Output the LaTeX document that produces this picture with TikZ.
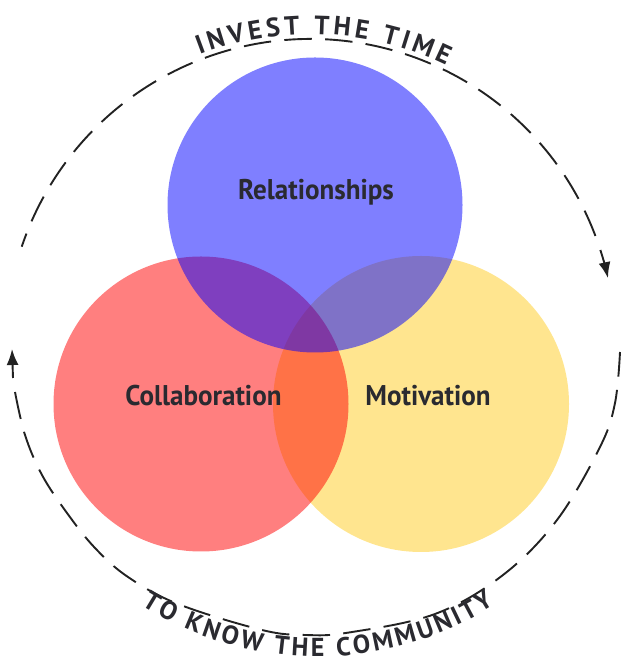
\documentclass[tikz,border=0pt]{standalone}
\usepackage{fontspec}
\setmainfont{PT Sans}
\newfontfamily\lblfont[FakeStretch=0.95]{PT Sans}
\newfontfamily\arcfont{PT Sans}
\usetikzlibrary{decorations.text,arrows.meta}
\definecolor{bluec}{RGB}{0,0,255}
\definecolor{redc}{RGB}{255,0,0}
\definecolor{yelc}{RGB}{255,204,31}
\definecolor{inkc}{RGB}{42,42,48}
\definecolor{dashc}{RGB}{34,34,34}
\tikzset{
  blob/.style={fill opacity=0.5},
  lbl/.style={anchor=base, text=inkc, font=\lblfont\bfseries\fontsize{28.5}{32}\selectfont, inner sep=0pt},
  dashline/.style={draw=dashc, line width=1.9pt, dash pattern=on 27.5pt off 13.3pt},
  arrowbit/.style={draw=dashc, line width=1.9pt, -{Latex[length=16pt,width=12pt]}},
  arctext/.style={decorate, decoration={text along path, text align={fit to path}, text color=inkc}}
}
\begin{document}
\begin{tikzpicture}[x=1pt,y=1pt]
\useasboundingbox (0,0) rectangle (621,663);
% Venn circles
\fill[yelc, blob] (421,259) circle[radius=148pt];
\fill[redc, blob] (201,259) circle[radius=147.5pt];
\fill[bluec, blob] (315,458) circle[radius=147.5pt];
% labels
\node[lbl] (rel) at (316,463) {Relationships};
\node[lbl] (col) at (203.5,257) {Collaboration};
\node[lbl] (mot) at (428,257) {Motivation};
% dashed cycle
\coordinate (topc) at (310.5,319.4);
\coordinate (botc) at (317.8,335.5);
\draw[dashline] ([shift={(20.7:304.6pt)}]topc) arc[start angle=20.7, end angle=161.45, radius=304.6pt];
\draw[arrowbit] ([shift={(17.9:304.6pt)}]topc) arc[start angle=17.9, end angle=12.4, radius=304.6pt];
\draw[dashline] plot[smooth, tension=0.6] coordinates {
  (15,271) (25,228) (42,188) (67,150) (95,115) (128,86) (178,59) (262,33) (306,28)
  (349,30.5) (435,49) (503,88) (557,143) (600,216) (615,260) (620,311)};
\coordinate (lftail) at (13,285);
\coordinate (lftip) at (12,314);
\draw[arrowbit] (lftail) -- (lftip);
% curved texts
\path[arctext, decoration={text={|\arcfont\bfseries\fontsize{26.5}{30}\selectfont|INVEST THE TIME}}]
  ([shift={(111:309.5pt)}]topc) arc[start angle=111, end angle=64, radius=309.5pt];
\path[arctext, decoration={text={|\arcfont\bfseries\fontsize{26}{30}\selectfont|TO KNOW THE COMMUNITY}}]
  ([shift={(237.6:329pt)}]botc) arc[start angle=237.6, end angle=302.5, radius=329pt];
\end{tikzpicture}
\end{document}
